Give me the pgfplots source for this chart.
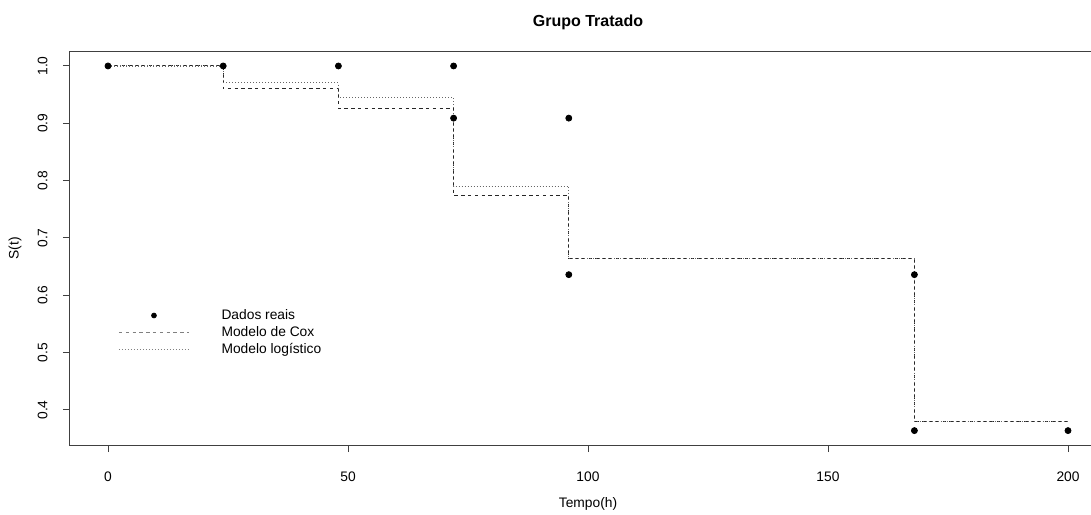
\documentclass[border=0pt]{standalone}
\usepackage{fontspec}
\setmainfont{Liberation Sans}
\usepackage{pgfplots}
\pgfplotsset{compat=1.18}
\begin{document}
\begin{tikzpicture}[x=1pt,y=1pt]
\begin{axis}[
  at={(34.8pt,34.3pt)}, anchor=south west,
  scale only axis, width=518.4pt, height=197pt,
  xmin=-8, xmax=208, ymin=0.3382, ymax=1.0254,
  axis line style={black!75, line width=0.5pt},
  xtick={0,50,100,150,200},
  ytick={0.4,0.5,0.6,0.7,0.8,0.9,1.0},
  tick align=outside, major tick length=3.3pt,
  tick style={black!75, line width=0.5pt},
  xtick pos=bottom, ytick pos=left,
  /pgf/number format/assume math mode=true,
  tick label style={font=\fontsize{6.9}{8}\selectfont},
  yticklabel style={rotate=90, anchor=south, inner sep=0pt, /pgf/number format/.cd, fixed, fixed zerofill, precision=1},
  xticklabel style={anchor=north, inner sep=0pt},
  yticklabel shift=7.5pt,
  xticklabel shift=9.5pt,
  title={Grupo Tratado},
  title style={font=\bfseries\fontsize{8}{9}\selectfont, at={(axis description cs:0.5,1.034)}, anchor=base},
  xlabel={Tempo(h)},
  xlabel style={font=\fontsize{6.9}{8}\selectfont, at={(axis description cs:0.5,-0.1488)}, anchor=center},
  ylabel={S(t)},
  ylabel style={font=\fontsize{6.9}{8}\selectfont, at={(axis description cs:-0.0527,0.5)}, anchor=center, rotate=0},
  legend style={draw=none, fill=none, at={(axis description cs:0.0467,0.351)}, anchor=north west,
    inner sep=0pt, row sep=0.5pt, font=\fontsize{6.9}{8}\selectfont,
    nodes={inner sep=0.5pt, text height=5.5pt, text depth=1.5pt},
    /tikz/every odd column/.append style={column sep=15.5pt}},
  legend cell align=left,
]
\addplot[only marks, mark=*, mark size=1.5pt, black,
  legend image code/.code={\fill[black] (17.5pt,0pt) circle (1.2pt);}]
  coordinates {(0,1) (24,1) (48,1) (72,1) (72,0.909) (96,0.909) (96,0.636) (168,0.636) (168,0.364) (200,0.364)};
\addlegendentry{Dados reais}
\addplot[const plot, black!85, line width=0.5pt, dash pattern=on 1.7pt off 1.7pt,
  legend image code/.code={\draw[black!50, line width=0.5pt, dash pattern=on 1.7pt off 1.7pt] (0pt,0pt) -- (35pt,0pt);}]
  coordinates {(0,1) (24,0.960) (48,0.926) (72,0.774) (96,0.664) (168,0.380) (200,0.380)};
\addlegendentry{Modelo de Cox}
\addplot[const plot, black!60, line width=0.55pt, dash pattern=on 0.5pt off 1pt,
  legend image code/.code={\draw[black!50, line width=0.55pt, dash pattern=on 0.5pt off 1pt] (0pt,0pt) -- (35pt,0pt);}]
  coordinates {(0,1) (24,0.971) (48,0.945) (72,0.790) (96,0.664) (168,0.380) (200,0.380)};
\addlegendentry{Modelo logístico}
\end{axis}
\pgfresetboundingbox
\useasboundingbox (0pt,0pt) rectangle (545.5pt,257pt);
\end{tikzpicture}
\end{document}
